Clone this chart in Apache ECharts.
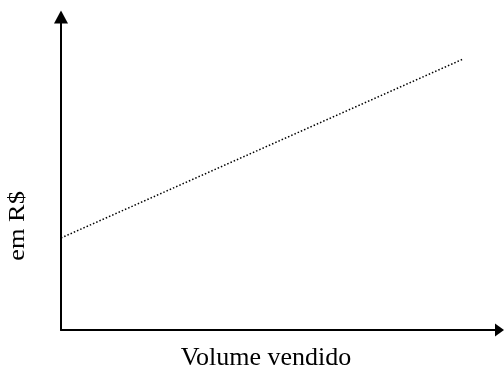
<!DOCTYPE html>
<html>
<head>
<meta charset="utf-8">
<script src="https://cdn.jsdelivr.net/npm/echarts@6/dist/echarts.min.js"></script>
<style>
  html, body { margin: 0; padding: 0; background: #fff; }
  #chart { width: 504px; height: 370px; }
</style>
</head>
<body>
<div id="chart"></div>
<script>
// linha de custo: dois pontos (volume, valor)
var volume = [0, 100];
var valor = [29.4, 86.6];
var xLabel = 'Volume vendido';
var yLabel = 'em R$';

var chart = echarts.init(document.getElementById('chart'));
var fonte = '"Liberation Serif", "Times New Roman", serif';

chart.setOption({
  backgroundColor: '#fff',
  animation: false,
  grid: { left: 61, right: 4.5, top: 17, bottom: 40 },
  xAxis: {
    type: 'value',
    min: 0,
    max: 109,
    axisLine: {
      show: true,
      symbol: ['none', 'triangle'],
      symbolSize: [13, 9],
      lineStyle: { color: '#000', width: 2 }
    },
    axisTick: { show: false },
    axisLabel: { show: false },
    splitLine: { show: false }
  },
  yAxis: {
    type: 'value',
    min: 0,
    max: 100,
    axisLine: {
      show: true,
      symbol: ['none', 'triangle'],
      symbolSize: [14, 13],
      lineStyle: { color: '#000', width: 2 }
    },
    axisTick: { show: false },
    axisLabel: { show: false },
    splitLine: { show: false }
  },
  graphic: [
    {
      type: 'text',
      x: 266,
      y: 358,
      style: {
        text: xLabel, font: '26px ' + fonte, fill: '#000',
        align: 'center', verticalAlign: 'middle'
      }
    },
    {
      type: 'text',
      x: 18,
      y: 226,
      rotation: Math.PI / 2,
      scaleX: 1.1,
      style: {
        text: yLabel, font: '24px ' + fonte, fill: '#000',
        align: 'center', verticalAlign: 'middle'
      }
    }
  ],
  series: [
    {
      type: 'line',
      data: volume.map(function (v, i) { return [v, valor[i]]; }),
      symbol: 'none',
      lineStyle: { color: '#000', width: 1.5, type: [1.5, 2] }
    }
  ]
});
</script>
</body>
</html>
